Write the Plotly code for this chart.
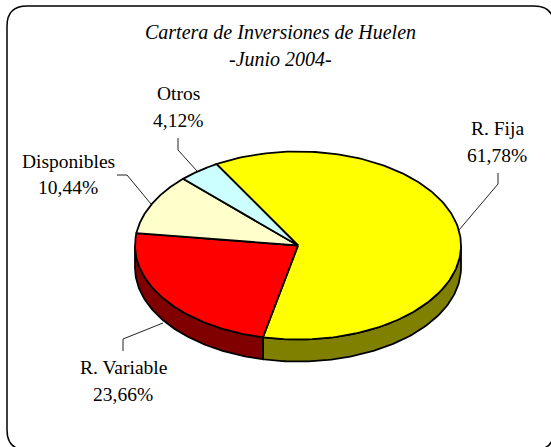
import numpy as np
import plotly.graph_objects as go

categories = ["R. Fija", "R. Variable", "Disponibles", "Otros"]
values = [61.78, 23.66, 10.44, 4.12]
top_colors = ["#ffff00", "#ff0000", "#ffffcc", "#ccffff"]
wall_colors = ["#808000", "#800000", "#808066", "#668080"]
title_lines = ["Cartera de Inversiones de Huelen", "-Junio 2004-"]

W, H = 551, 447
CX, CY, RX, RY, DEPTH = 298, 245.5, 163, 94, 22
START = 330.0
FONT = "Liberation Serif"
LABEL_POS = [(497, 128, 155), (123, 367, 394), (68, 161, 187), (178, 93, 120)]
LEADERS = [
    [(498, 173), (498, 184), (459, 230)],
    [(123, 351), (123, 339), (163, 323)],
    [(117, 175), (127, 175), (151, 204)],
    [(178, 138), (178, 150), (197, 171)],
]


def pt(deg, dy=0.0):
    r = np.radians(deg)
    return CX + RX * np.sin(r), CY - RY * np.cos(r) + dy


fig = go.Figure()
spans = []
a = START
for v in values:
    spans.append((a, a + v * 3.6))
    a += v * 3.6


def add_poly(xs, ys, color, name):
    fig.add_trace(go.Scatter(x=list(xs), y=list(ys), mode="lines", fill="toself",
                             fillcolor=color, line=dict(color="black", width=1.8),
                             name=name, hoverinfo="name", showlegend=False))


# side walls (only the near half of the rim, 90..270 degrees modulo turn)
for (a0, a1), col, name in zip(spans, wall_colors, categories):
    for shift in (0, 360, -360):
        lo, hi = max(a0 + shift, 90), min(a1 + shift, 270)
        if hi > lo:
            t = np.linspace(lo, hi, 90)
            x, y = pt(t)
            xb, yb = pt(t[::-1], DEPTH)
            add_poly(np.r_[x, xb, x[0]], np.r_[y, yb, y[0]], col, name)

# top faces
for (a0, a1), col, name in zip(spans, top_colors, categories):
    t = np.linspace(a0, a1, 180)
    x, y = pt(t)
    add_poly(np.r_[CX, x, CX], np.r_[CY, y, CY], col, name)

# leader lines
for pts in LEADERS:
    fig.add_trace(go.Scatter(x=[p[0] for p in pts], y=[p[1] for p in pts], mode="lines",
                             line=dict(color="#222222", width=1), hoverinfo="skip",
                             showlegend=False))

ann = []
for i, line in enumerate(title_lines):
    ann.append(dict(x=280, y=32 + 27 * i, text=f"<i>{line}</i>", showarrow=False,
                    font=dict(family=FONT, size=20, color="black")))
for cat, v, (cx, y1, y2) in zip(categories, values, LABEL_POS):
    ann.append(dict(x=cx, y=y1, text=cat, showarrow=False,
                    font=dict(family=FONT, size=19.5, color="black")))
    ann.append(dict(x=cx, y=y2, text=f"{v:.2f}%".replace(".", ","), showarrow=False,
                    font=dict(family=FONT, size=19.5, color="black")))

L, T, R, B, C = 7, 6, 554, 450, 20
border = (f"M {L+C} {T} L {R-C} {T} Q {R} {T} {R} {T+C} L {R} {B-C} Q {R} {B} {R-C} {B} "
          f"L {L+C} {B} Q {L} {B} {L} {B-C} L {L} {T+C} Q {L} {T} {L+C} {T} Z")

fig.update_layout(
    width=W, height=H, autosize=False,
    margin=dict(l=0, r=0, t=0, b=0),
    paper_bgcolor="white", plot_bgcolor="white",
    xaxis=dict(range=[0, W], visible=False, fixedrange=True),
    yaxis=dict(range=[H, 0], visible=False, fixedrange=True),
    annotations=ann,
    shapes=[dict(type="path", path=border, line=dict(color="black", width=1.5), layer="below")],
    showlegend=False,
)
fig.write_html("out.html", config=dict(displayModeBar=False),
               post_script="document.body.style.margin='0';document.body.style.overflow='hidden';")
